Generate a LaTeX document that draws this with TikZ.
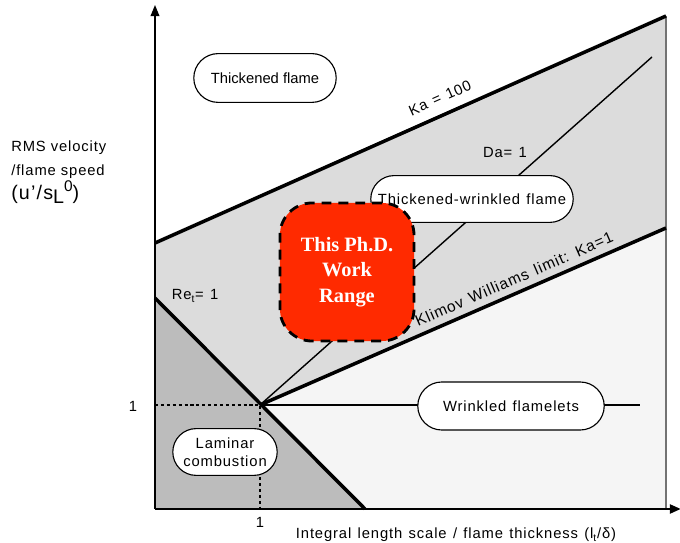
\documentclass[tikz,border=0pt]{standalone}
\usepackage{fontspec}
\setmainfont{Liberation Sans}
\newfontfamily\phdfont{Liberation Serif}
\newfontfamily\widefamily[LetterSpace=6]{Liberation Sans}
\usetikzlibrary{arrows.meta,shapes.misc}

\definecolor{bandgrey}{HTML}{DCDCDC}
\definecolor{lamgrey}{HTML}{BCBCBC}
\definecolor{flamgrey}{HTML}{F5F5F5}
\definecolor{phdred}{HTML}{FF2A00}
\newcommand{\labelfont}{\fontsize{10.5}{13}\selectfont}
\newcommand{\widefont}{\widefamily\fontsize{10.5}{13}\selectfont\spaceskip=4.5pt plus 1pt\relax}
\newcommand{\kwfont}{\widefamily\fontsize{11}{13}\selectfont\spaceskip=5pt plus 1pt\relax}
\newcommand{\axisfont}{\widefamily\fontsize{10.5}{17}\selectfont}

\begin{document}
\begin{tikzpicture}[x=0.025cm,y=-0.025cm,>={Triangle[length=2.8mm,width=2.2mm]},
  lbl/.style={font=\labelfont,inner sep=1pt},
  widelbl/.style={font=\widefont,inner sep=1pt},
  regime/.style={draw=black,fill=white,rounded rectangle,line width=0.8pt,align=center,inner sep=2pt},
  limit/.style={line width=2.5pt},
  thinline/.style={line width=1pt}]
\useasboundingbox (0,0) rectangle (680,543);
% points of the diagram
\coordinate (O) at (155,509);
\coordinate (yTop) at (155,5);
\coordinate (xEnd) at (681,509);
\coordinate (A) at (155,243);
\coordinate (B) at (666,16);
\coordinate (C) at (666,228);
\coordinate (BR) at (666,509);
\coordinate (P) at (260,405);
\coordinate (R0) at (155,298);
\coordinate (R1) at (365,509);
\coordinate (D) at (652,57);
\coordinate (H) at (640,405);
\coordinate (Y1) at (155,405);
\coordinate (X1) at (260,509);
% regions
\fill[bandgrey] (A) -- (B) -- (C) -- (P) -- (R0) -- cycle;
\fill[lamgrey] (R0) -- (R1) -- (O) -- cycle;
\fill[flamgrey] (P) -- (C) -- (BR) -- (R1) -- cycle;
\draw[black!55,line width=1pt] (B) -- (BR);
% limits
\draw[thinline] (P) -- (D);
\draw[thinline] (P) -- (H);
\draw[line width=1.6pt,dash pattern=on 2.2pt off 2pt] (Y1) -- (P) -- (X1);
\draw[limit] (A) -- (B);
\draw[limit] (P) -- (C);
\draw[limit] (R0) -- (R1);
% axes
\draw[line width=1pt,->] (O) -- (yTop);
\draw[line width=2pt,->] (O) -- (xEnd);
% labels
\node[widelbl,rotate=24] (ka100) at (440,98) {Ka = 100};
\node[widelbl] (da) at (505,152) {Da= 1};
\node[widelbl,font=\kwfont,rotate=23.5] (kw) at (514,279) {Klimov Williams limit: Ka=1};
\node[widelbl] (ret) at (195,296) {Re\textsubscript{t}= 1};
\node[lbl] (one1) at (133,406) {1};
\node[lbl] (one2) at (260,522) {1};
\node[widelbl] (xlabel) at (456,535) {Integral length scale / flame thickness (l\textsubscript{t}/δ)};
\node[anchor=north west,align=left,inner sep=0pt,font=\axisfont] (ylabel) at (11,141) {RMS velocity\\/flame speed\\{\fontsize{14}{17}\selectfont(u’/s\raisebox{-0.4ex}{L}\raisebox{0.75ex}{\fontsize{11}{12}\selectfont 0})}};
% regimes
\node[regime,font=\labelfont,minimum width=3.7cm,minimum height=1.22cm] (thick) at (265,78) {Thickened flame};
\node[regime,font=\widefont,minimum width=5.2cm,minimum height=1.17cm] (twrink) at (472,199) {Thickened-wrinkled flame};
\node[regime,font=\widefont,minimum width=4.8cm,minimum height=1.2cm] (wrink) at (511,406) {Wrinkled flamelets};
\node[regime,font=\widefont,minimum width=2.75cm,minimum height=1.17cm] (lam) at (225,452) {Laminar\\combustion};
\node[draw=black,fill=phdred,line width=2pt,dash pattern=on 7pt off 5pt,rounded corners=0.8cm,minimum width=3.35cm,minimum height=3.45cm,align=center,text=white,font=\phdfont\bfseries\fontsize{14.5}{18}\selectfont] (phd) at (347,272) {This Ph.D.\\Work\\Range};
\end{tikzpicture}
\end{document}
